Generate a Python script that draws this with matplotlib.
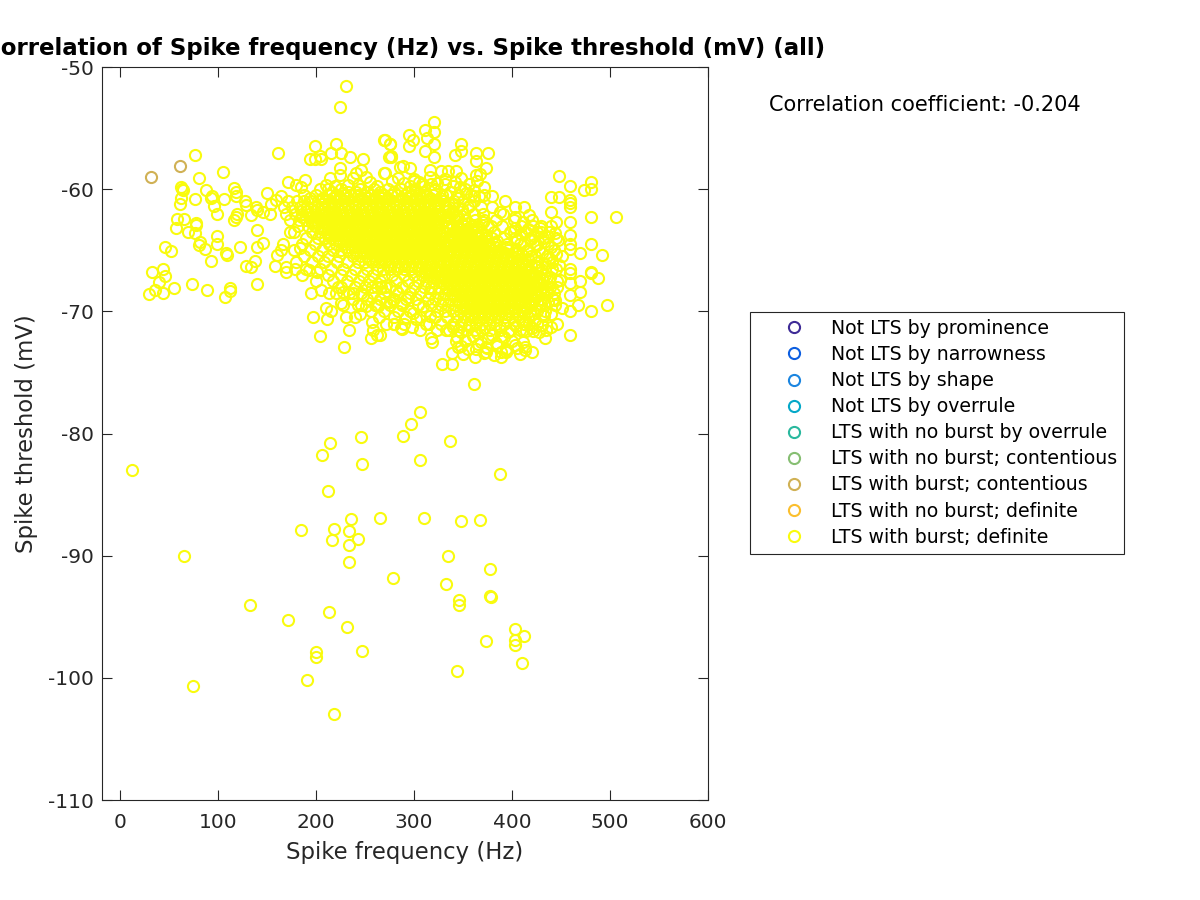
import matplotlib
matplotlib.use('Agg')
import matplotlib.pyplot as plt

plt.rcParams['axes.unicode_minus'] = False

labels = ['Not LTS by prominence', 'Not LTS by narrowness', 'Not LTS by shape',
          'Not LTS by overrule', 'LTS with no burst by overrule',
          'LTS with no burst; contentious', 'LTS with burst; contentious',
          'LTS with no burst; definite', 'LTS with burst; definite']
colors = ['#3E2B96', '#0D5FE0', '#1B85E0', '#05A8C8', '#2AB89E',
          '#86BE72', '#D0B155', '#FBBF2E', '#F9FB0E']

contentious_x = [32, 62]
contentious_y = [-59.0, -58.1]

# lower group, well separated
low_x = [13, 66, 75, 133, 172, 185, 191, 200, 200, 206, 212, 215, 214, 217, 219, 219, 232, 234, 234, 234,
         236, 243, 246, 247, 247, 265, 279, 289, 297, 306, 306, 310, 333, 335, 337, 344, 346, 346, 348,
         367, 374, 378, 378, 379, 388, 403, 403, 403, 410, 412]
low_y = [-83, -90, -100.7, -94, -95.3, -87.9, -100.2, -97.9, -98.3, -81.8, -84.7, -80.8, -94.6, -88.7, -87.8, -103,
         -95.8, -88, -89.1, -90.5, -87, -88.6, -80.3, -82.5, -97.8, -86.9, -91.8, -80.2, -79.2, -78.2, -82.2, -86.9,
         -92.3, -90, -80.6, -99.4, -93.6, -94, -87.2, -87.1, -97, -91.1, -93.3, -93.4, -83.3, -96, -96.9, -97.3,
         -98.8, -96.6]

# left edge of the main cloud
left_x = [76.5, 105.7, 80.6, 63.9, 63, 64.6, 88.4, 116.3, 118.3, 119, 76.5, 63, 61.2, 94.5, 92.8, 106, 95.9, 99.3,
          127.5, 129.2, 119.7, 116.6, 118.3, 133.6, 139.4, 140.4, 146.2, 150.6, 154.7, 153, 164.9, 159.8, 161.2,
          58.8, 65.6, 57.1, 78.2, 77.5, 69.7, 76.5, 99.3, 81.6, 80.9, 87, 99.3, 108.1, 109.5, 123.1, 140.1, 140.1,
          146.2, 137.7, 92.8, 46.6, 52.7, 129.2, 133.6, 33.3, 44.2, 46.6, 39.8, 74.1, 140.1, 55.1, 35.7, 29.6, 44.2,
          89.1, 112.9, 112.2, 107.8, 158.8, 169.3, 170, 178.5, 160.8, 166.6, 164.9, 192.8, 201.6, 183.6, 173.4,
          195.5, 205.7, 222.7, 221, 227.8, 238, 226, 210.1, 215.9, 197.2, 211.8, 231.2, 244.8, 243.1, 251.6, 260.1,
          263.5, 257.4, 233.6, 204, 228.8, 256.7, 262.8, 279.8, 272, 278.8, 287.3, 257.4, 270.3, 248.2]
left_y = [-57.2, -58.6, -59.1, -60, -59.85, -60.1, -60.1, -59.9, -60.2, -60.6, -60.8, -60.75, -61.2, -60.6, -60.75,
          -60.8, -61.4, -62, -60.95, -61.3, -62.05, -62.5, -62.25, -62.1, -61.5, -61.7, -61.85, -60.3, -61.2, -62,
          -60.6, -60.9, -57.05, -62.45, -62.45, -63.2, -62.8, -62.9, -63.5, -63.6, -63.8, -64.35, -64.6, -64.9,
          -64.5, -65.25, -65.35, -64.7, -63.35, -64.7, -64.4, -65.9, -65.9, -64.7, -65.05, -66.25, -66.4, -66.75,
          -66.5, -67.1, -67.6, -67.8, -67.75, -68.1, -68.25, -68.6, -68.5, -68.25, -68.1, -68.3, -68.8, -66.25,
          -66.8, -66.35, -66.5, -65.4, -64.45, -65, -66.6, -66.75, -64.85, -63.5, -68.5, -68.25, -68, -68.5, -68.4,
          -68.5, -69.35, -69.7, -70, -70.5, -70.65, -70.5, -70.2, -69.5, -69.55, -69.5, -69.6, -70.85, -71.5, -72,
          -72.9, -72.2, -71.9, -71.05, -69.2, -69.1, -71.4, -68, -68, -68.65]

# upper edge of the main cloud
top_x = [231.2, 224.8, 269.3, 276, 277.1, 274.7, 199.6, 220.3, 193.8, 198.9, 204, 205.7, 215.9, 226.1, 235.3, 248.2,
         224.4, 225.1, 269.3, 241.4, 246.5, 238, 251.6, 214.2, 171.7, 188.7, 180.2, 185.3, 204, 210.8, 219.3, 232.9,
         243.1, 285.6, 320.7, 311.9, 320.7, 295.2, 299.3, 295.2, 270.4, 276.2, 313.9, 320.7, 311.9, 320.7, 341.8,
         347.9, 347.9, 362.9, 375.8, 362.9, 374.1, 362.9, 367.3, 342.5, 277.2, 270.4, 289.1, 295.9, 316.3, 328.2, 335,
         255, 262, 278, 290, 300, 310, 332, 228, 296, 284, 305, 318]
top_y = [-51.55, -53.3, -56, -56.3, -57.3, -57.4, -56.5, -56.3, -57.55, -57.55, -57.3, -57.55, -57, -57.05, -57.4,
         -57.55, -58.3, -58.85, -58.7, -58.7, -58.45, -59.1, -59, -59.05, -59.4, -59.25, -59.65, -59.8, -59.95, -59.65,
         -59.75, -59.65, -59.65, -58.15, -54.47, -55.15, -55.35, -55.6, -56, -56.5, -56, -56.3, -55.8, -56.3, -56.9,
         -57.4, -57.2, -56.3, -56.9, -57, -57, -57.7, -58.25, -58.85, -58.75, -58.55, -57.35, -58.7, -58.1, -58.3,
         -58.45, -58.55, -58.5, -59.4, -59.7, -59.3, -59.5, -59.2, -59.7, -59.6, -60.3, -59.75, -59.1, -59.45, -59.55]

# right and bottom edge of the main cloud
right_x = [447.9, 459.1, 480.2, 473.4, 480.2, 439.4, 447.9, 459.1, 459.1, 459.1, 439.4, 480.2, 505.7, 459.1, 444.5,
           459.1, 459.1, 459.1, 480.2, 469.3, 492.4, 459.1, 459.1, 480.2, 480.2, 488.3, 469.3, 459.1, 459.1, 469.3,
           467.6, 459.1, 480.2, 497.2, 459.1, 445.5, 440.4, 433.6, 420.7, 413.2, 411.5, 413.2, 403, 394.5, 388.7,
           388.7, 388.7, 374.1, 374.1, 362.9, 348.6, 343.5, 339.4, 339.4, 328.9, 318, 318.7, 315.6, 298.3, 288.4,
           279.6, 265.3, 361.2, 380.2, 392.8, 387.7, 403, 412.2, 417.6, 403, 361.2, 366.3, 346.9, 341.8, 421.7,
           411.5, 403, 428.5, 440.4, 450.6, 448.9, 450.6, 438.7, 443.8, 431.9, 421.7, 399.6, 411.5, 333.3, 302.7,
           275.5, 287.4, 299.3, 267, 282.3, 294.2, 309.5, 316.3]
right_y = [-58.9, -59.75, -59.4, -60.1, -59.95, -60.65, -60.65, -60.9, -61.45, -61.15, -61.85, -62.3, -62.3, -62.65,
           -62.65, -63.75, -64.45, -64.9, -64.5, -65.25, -65.4, -66.5, -66.9, -66.75, -66.9, -67.3, -67.55, -67.7,
           -68.65, -68.45, -69.5, -70, -69.95, -69.5, -71.9, -71, -71.25, -72.2, -73.3, -73.2, -72.5, -72.95, -72.75,
           -73.1, -73.7, -73.3, -72.05, -73.3, -72.9, -73.1, -72.85, -72.4, -73.45, -74.3, -74.3, -72.2, -72.5, -71,
           -71.25, -71.45, -71.05, -71.9, -75.95, -60.6, -61, -61.85, -61.5, -61.45, -62.15, -62.25, -60.05, -60.6,
           -59.85, -59.4, -63.05, -62.65, -63.2, -63.2, -63.05, -65.5, -67.4, -69.75, -68, -69.05, -70.2, -71.65,
           -71.5, -71.5, -71.5, -70.6, -69.2, -69.35, -70.15, -68, -68.25, -68.8, -69.6, -70.4]

# thick part on the right and top of the cloud, estimated
extra_x = [402, 409, 416, 423, 430, 437, 444, 405, 412, 419, 426, 433, 440, 447, 403, 410, 417, 424, 431, 438, 445,
           406, 413, 420, 427, 434, 441, 448, 411, 418, 425, 432, 439, 446, 408, 415, 422, 429, 436, 443, 409, 416,
           423, 430, 437, 444, 412, 419, 426, 433, 440, 410, 417, 424, 431, 414, 421, 428, 435,
           340, 348, 356, 364, 372, 380, 388, 396, 404, 344, 352, 360, 368, 376, 384, 392, 400, 345, 355, 365, 375,
           385, 395, 405, 350, 362, 372, 382, 394, 408,
           305, 313, 321, 329, 337, 345, 353, 361, 309, 317, 325, 333, 341, 349, 357, 312, 320, 328, 336, 344, 352,
           300, 308, 316, 324, 332, 340, 348, 356, 364, 372, 315, 323, 331, 339, 347, 355, 363, 371, 379]
extra_y = [-63.4, -63.7, -63.3, -63.8, -63.5, -63.9, -63.6, -64.2, -64.5, -64.1, -64.6, -64.3, -64.7, -64.2, -65.2,
           -65.4, -65.1, -65.5, -65.2, -65.6, -65.3, -66.1, -66.3, -66.2, -66.4, -66.1, -66.5, -66.2, -67.1, -67.3,
           -67.0, -67.4, -67.2, -67.5, -68.1, -68.3, -68.0, -68.4, -68.2, -68.5, -69.0, -69.3, -69.1, -69.4, -69.2,
           -69.5, -70.1, -70.3, -70.0, -70.4, -70.2, -70.8, -71.0, -70.7, -71.1, -71.6, -71.4, -71.7, -71.5,
           -71.3, -71.7, -71.2, -71.8, -71.4, -71.9, -71.3, -71.7, -71.2, -72.1, -72.4, -72.0, -72.5, -72.2, -72.6,
           -72.1, -72.4, -72.9, -73.1, -72.7, -73.0, -72.8, -73.2, -73.0, -73.5, -73.7, -73.4, -73.6, -73.3, -73.5,
           -60.3, -60.6, -60.1, -60.5, -60.2, -60.7, -60.3, -60.6, -61.2, -61.4, -61.1, -61.5, -61.2, -61.6, -61.3,
           -62.1, -62.3, -62.0, -62.4, -62.2, -62.5, -59.3, -59.6, -59.0, -59.5, -59.2, -59.7, -59.1, -59.6, -59.3,
           -59.8, -63.2, -62.9, -63.4, -63.0, -63.3, -62.8, -63.1, -62.7, -63.0]

# solid part of the cloud: rings overlap too much to read, estimated per mV level
core_y = [-60.0, -60.5, -61.0, -61.5, -62.0, -62.5, -63.0, -63.5, -64.0, -64.5, -65.0, -65.5,
          -66.0, -66.5, -67.0, -67.5, -68.0, -68.5, -69.0, -69.5, -70.0, -70.5, -71.0, -71.5]
core_x = [
    [212, 226, 245, 259, 274, 287, 301, 322, 352],
    [188, 200, 214, 221, 229, 235, 243, 249, 256, 263, 270, 277, 283, 291, 298, 305, 312, 320, 333, 345, 358, 372],
    [172, 181, 188, 195, 202, 209, 216, 223, 230, 237, 244, 251, 258, 265, 272, 279, 286, 293, 300, 307, 314, 321, 330, 341, 350, 361],
    [168, 176, 184, 191, 198, 205, 212, 219, 226, 233, 240, 247, 254, 261, 268, 275, 282, 289, 296, 303, 310, 317, 325, 336, 345, 355, 368, 380],
    [170, 179, 186, 193, 200, 207, 214, 221, 228, 235, 242, 249, 256, 263, 270, 277, 284, 291, 298, 305, 312, 319, 327, 339, 351, 361, 371, 391],
    [174, 183, 190, 197, 204, 211, 218, 225, 232, 239, 246, 253, 260, 267, 274, 281, 288, 295, 302, 309, 316, 323, 332, 342, 352, 362, 372, 384, 402, 421],
    [182, 192, 199, 206, 213, 220, 227, 234, 241, 248, 255, 262, 269, 276, 283, 290, 297, 304, 311, 318, 325, 334, 344, 351, 358, 365, 376, 390, 409, 430],
    [178, 196, 204, 211, 218, 225, 232, 239, 246, 253, 260, 267, 274, 281, 288, 295, 302, 309, 316, 323, 331, 341, 348, 355, 362, 369, 382, 398, 414, 426, 438],
    [190, 202, 209, 216, 223, 230, 237, 244, 251, 258, 265, 272, 279, 286, 293, 300, 307, 314, 321, 329, 338, 345, 352, 359, 366, 373, 380, 392, 403, 418, 432, 445],
    [186, 199, 213, 221, 228, 235, 242, 249, 256, 263, 270, 277, 284, 291, 298, 305, 312, 319, 327, 335, 342, 349, 356, 363, 370, 377, 384, 395, 408, 424, 437],
    [178, 194, 206, 218, 226, 233, 240, 247, 254, 261, 268, 275, 282, 289, 296, 303, 310, 317, 324, 331, 338, 345, 352, 359, 366, 373, 380, 387, 396, 404, 415, 428, 443],
    [188, 202, 212, 224, 238, 245, 252, 259, 266, 273, 280, 287, 294, 301, 308, 315, 322, 329, 336, 343, 350, 357, 364, 371, 378, 385, 392, 399, 406, 420, 436],
    [180, 196, 208, 222, 232, 243, 250, 257, 264, 271, 278, 285, 292, 299, 306, 313, 320, 327, 334, 341, 348, 355, 362, 369, 376, 383, 390, 397, 404, 411, 426, 441],
    [190, 204, 216, 228, 240, 252, 262, 269, 276, 283, 290, 297, 304, 311, 318, 325, 332, 339, 346, 353, 360, 367, 374, 381, 388, 395, 402, 409, 416, 430, 445],
    [186, 212, 226, 236, 248, 258, 270, 278, 290, 300, 308, 315, 322, 329, 336, 343, 350, 357, 364, 371, 378, 385, 392, 399, 406, 413, 420, 434],
    [200, 218, 232, 244, 254, 266, 282, 294, 304, 312, 320, 327, 334, 341, 348, 355, 362, 369, 376, 383, 390, 397, 404, 411, 418, 425, 438],
    [226, 240, 250, 262, 276, 288, 300, 310, 318, 326, 333, 340, 347, 354, 361, 368, 375, 382, 389, 396, 403, 410, 417, 424, 432, 446],
    [214, 234, 246, 258, 270, 284, 296, 306, 316, 325, 332, 339, 346, 353, 360, 367, 374, 381, 388, 395, 402, 409, 416, 423, 436],
    [238, 252, 266, 280, 292, 302, 314, 322, 330, 337, 344, 351, 358, 365, 372, 379, 386, 393, 400, 407, 414, 421, 430, 442],
    [228, 246, 262, 276, 288, 304, 318, 328, 335, 342, 349, 356, 363, 370, 377, 384, 391, 398, 405, 412, 419, 428],
    [256, 270, 284, 296, 312, 324, 332, 340, 347, 354, 361, 368, 375, 382, 389, 396, 403, 410, 418, 434],
    [240, 264, 280, 292, 306, 322, 334, 344, 351, 358, 365, 372, 379, 386, 393, 400, 407, 416],
    [272, 290, 312, 328, 340, 348, 356, 363, 370, 377, 384, 392, 402, 412, 426],
    [258, 306, 324, 336, 345, 354, 362, 370, 378, 388, 398, 408],
]

# in-between levels, only where the picture is solid
fill_y = [-60.25, -60.75, -61.25, -61.75, -62.25, -62.75, -63.25, -63.75, -64.25, -64.75, -65.25, -65.75, -66.25,
          -66.75, -67.25, -67.75, -68.25, -68.75, -69.25, -69.75, -70.25]
fill_x = [
    [217, 233, 241, 252, 266, 280, 294, 310],
    [194, 207, 218, 225, 232, 246, 253, 260, 267, 274, 288, 295, 302, 316, 327],
    [206, 212, 219, 227, 233, 240, 248, 254, 261, 269, 275, 282, 290, 296, 303, 311, 317, 324, 331],
    [191, 199, 205, 213, 220, 226, 234, 241, 247, 255, 262, 268, 276, 283, 289, 297, 304, 310, 318, 325, 332, 340],
    [186, 194, 200, 208, 215, 221, 229, 236, 242, 250, 257, 263, 271, 278, 284, 292, 299, 305, 313, 320, 326, 334, 345],
    [196, 202, 210, 217, 223, 231, 238, 244, 252, 259, 265, 273, 280, 286, 294, 301, 307, 315, 322, 328, 336, 349],
    [206, 212, 220, 226, 234, 241, 247, 255, 262, 268, 276, 283, 289, 297, 304, 310, 318, 326, 337, 346, 353, 360],
    [214, 222, 228, 236, 243, 249, 257, 264, 270, 278, 285, 291, 299, 306, 312, 320, 328, 337, 344, 351, 358, 365, 374],
    [224, 231, 238, 245, 252, 259, 266, 273, 280, 287, 294, 301, 308, 315, 323, 331, 340, 347, 354, 361, 368, 375, 385],
    [232, 240, 247, 254, 261, 268, 275, 282, 289, 296, 303, 310, 317, 325, 333, 341, 348, 355, 362, 369, 376, 383, 394],
    [241, 249, 256, 263, 270, 277, 284, 291, 298, 305, 312, 320, 328, 336, 344, 351, 358, 365, 372, 379, 386, 393, 405],
    [254, 260, 267, 274, 281, 288, 295, 302, 309, 317, 325, 333, 341, 349, 356, 363, 370, 377, 384, 391, 398, 407, 416],
    [276, 284, 291, 298, 305, 312, 319, 327, 336, 343, 350, 357, 364, 371, 378, 385, 392, 399, 406, 413, 425],
    [311, 318, 325, 332, 339, 346, 353, 360, 367, 374, 381, 388, 395, 402, 409, 417, 430],
    [321, 329, 336, 343, 350, 357, 364, 371, 378, 385, 392, 399, 406, 413, 421, 431],
    [331, 338, 345, 352, 359, 366, 373, 380, 387, 394, 401, 408, 415, 423, 430],
    [336, 343, 350, 357, 364, 371, 378, 385, 392, 399, 406, 413, 420, 430],
    [341, 348, 355, 362, 369, 376, 383, 390, 397, 404, 411, 418, 426],
    [346, 353, 360, 367, 374, 381, 388, 395, 402, 409, 420],
    [353, 360, 367, 374, 381, 388, 395, 402, 415],
    [358, 366, 373, 380, 387, 394, 405],
]

# flatten the levels into one point list
core_px = []
core_py = []
for level, xs in list(zip(core_y, core_x)) + list(zip(fill_y, fill_x)):
    for v in xs:
        core_px.append(v)
        core_py.append(level)

x_ticks = [0, 100, 200, 300, 400, 500, 600]
y_ticks = [-110, -100, -90, -80, -70, -60, -50]
dark = '#262626'

fig = plt.figure(figsize=(12, 9), dpi=100)
ax = fig.add_axes([102 / 1200, 100 / 900, 606 / 1200, 733 / 900])

# empty classes still show up in the legend
for lab, col in zip(labels[:6], colors[:6]):
    ax.plot([], [], 'o', mfc='none', mec=col, mew=1.5, ms=8, label=lab)
ax.plot(contentious_x, contentious_y, 'o', mfc='none', mec=colors[6], mew=1.5, ms=8, label=labels[6])
ax.plot([], [], 'o', mfc='none', mec=colors[7], mew=1.5, ms=8, label=labels[7])
ax.plot(core_px + extra_x + low_x + left_x + top_x + right_x, core_py + extra_y + low_y + left_y + top_y + right_y,
        'o', mfc='none', mec=colors[8], mew=1.5, ms=8, label=labels[8])

ax.set_xlim(-18, 600)
ax.set_ylim(-110, -50)
ax.set_xticks(x_ticks)
ax.set_yticks(y_ticks)
ax.tick_params(direction='in', top=True, right=True, length=7, width=0.8, labelsize=14.5, colors=dark)
ax.tick_params(axis='x', pad=9)
ax.tick_params(axis='y', pad=6)
for s in ax.spines.values():
    s.set_color(dark)
    s.set_linewidth(0.8)

ax.set_xlabel('Spike frequency (Hz)', fontsize=16.4, color=dark, labelpad=7)
ax.set_ylabel('Spike threshold (mV)', fontsize=16.4, color=dark, labelpad=7)
ax.set_title('Correlation of Spike frequency (Hz) vs. Spike threshold (mV) (all)',
             fontsize=16.5, fontweight='bold', pad=9)

fig.text(769 / 1200, 1 - 105 / 900, 'Correlation coefficient: -0.204', fontsize=15.05, va='center')

leg = fig.legend(loc='upper left', bbox_to_anchor=(750 / 1200, 1 - 312 / 900), borderaxespad=0,
                 fontsize=13.6, fancybox=False, framealpha=1, edgecolor=dark,
                 labelspacing=0.375, handletextpad=0.0, handlelength=3.93, borderpad=0.37)
leg.get_frame().set_linewidth(0.8)

fig.savefig('out.png', dpi=100)
